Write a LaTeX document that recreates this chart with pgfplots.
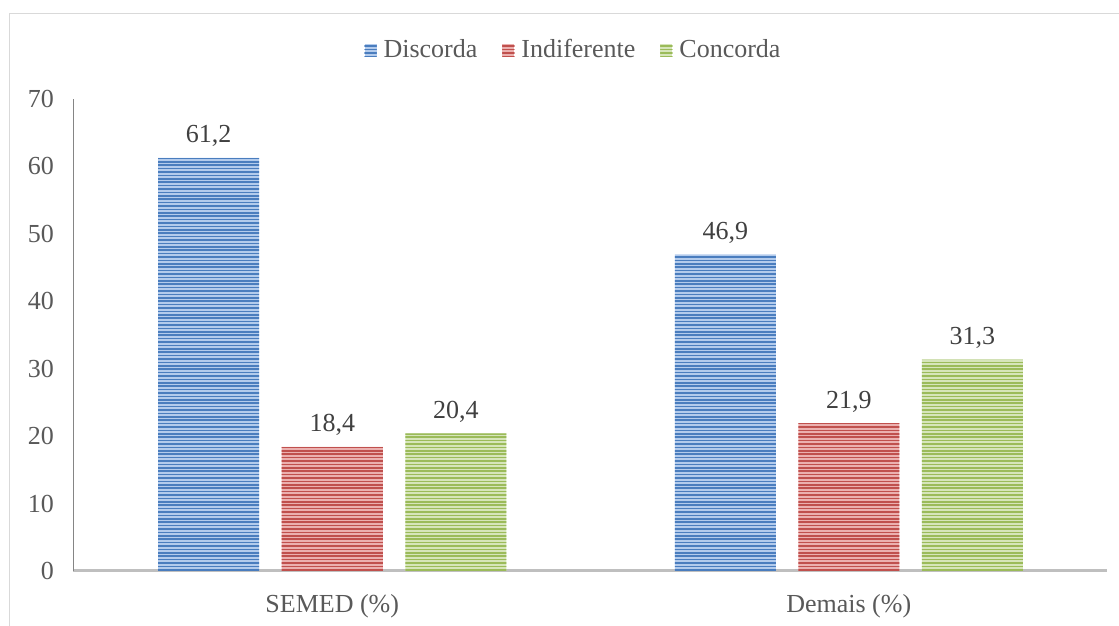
\documentclass[border=0pt]{standalone}
\usepackage{pgfplots}
\pgfplotsset{compat=1.18}
\usepackage{fontspec}
\setmainfont{Liberation Serif}
\usetikzlibrary{patterns}

\definecolor{blueD}{HTML}{4A7DBE}
\definecolor{blueL}{HTML}{B3CBEC}
\definecolor{redD}{HTML}{C0504D}
\definecolor{redL}{HTML}{EBB0AF}
\definecolor{greenD}{HTML}{9BBB59}
\definecolor{greenL}{HTML}{D6E5BA}
\definecolor{txt}{HTML}{595959}
\definecolor{lbl}{HTML}{404040}
\definecolor{frame}{HTML}{D9D9D9}

% wide tile of narrow horizontal stripes
\pgfdeclarepatternformonly{hstripes}{\pgfpoint{-1pt}{0pt}}{\pgfpoint{301pt}{1.7pt}}{\pgfpoint{300pt}{1.7pt}}{%
  \pgfpathrectangle{\pgfpoint{-1pt}{0.45pt}}{\pgfpoint{302pt}{0.8pt}}\pgfusepath{fill}}

\tikzset{
  stripes/.style 2 args={fill=#2, draw=none,
    postaction={pattern=hstripes, pattern color=#1}},
}

\begin{document}
\begin{tikzpicture}[font=\fontsize{13}{15}\selectfont]
\clip (0pt,0pt) rectangle (559.5pt,313pt);
\path[use as bounding box] (0pt,0pt) rectangle (559.5pt,313pt);
% chart area frame
\draw[frame, line width=0.75pt] (4.75pt,-20pt) -- (4.75pt,306.25pt) -- (620pt,306.25pt);

\begin{axis}[
  at={(37pt,27.5pt)}, anchor=south west,
  scale only axis, width=516.5pt, height=236.25pt,
  ybar=11.25pt, bar width=50.5pt,
  xmin=-0.5, xmax=1.5, ymin=0, ymax=70,
  xtick={0,1}, xticklabels={SEMED (\%), Demais (\%)},
  ytick={0,10,...,70},
  major tick length=0pt,
  axis x line*=bottom, axis y line*=left,
  x axis line style={draw=black!25, line width=1.5pt, shorten <=-0.4pt},
  y axis line style={draw=black!48, line width=0.5pt},
  tick label style={text=txt, font=\fontsize{13}{15}\selectfont},
  /pgf/number format/assume math mode=true,
  yticklabel style={xshift=-6.5pt},
  xticklabel style={yshift=-8pt},
  nodes near coords,
  nodes near coords style={text=lbl, font=\fontsize{13}{15}\selectfont, yshift=2pt,
    /pgf/number format/.cd, fixed, fixed zerofill, precision=1, use comma, assume math mode=true},
  legend columns=-1,
  legend style={draw=none, fill=none, at={(0.486,1.1026)}, anchor=center,
    font=\fontsize{13}{15}\selectfont, text=txt,
    nodes={inner xsep=3.5pt},
    /tikz/every even column/.append style={column sep=9pt}},
  clip=false,
]
\addplot[stripes={blueD}{blueL},
  legend image code/.code={\path[stripes={blueD}{blueL}] (0pt,-3pt) rectangle (6pt,3pt);}]
  coordinates {(0,61.2) (1,46.9)};
\addplot[stripes={redD}{redL},
  legend image code/.code={\path[stripes={redD}{redL}] (0pt,-3pt) rectangle (6pt,3pt);}]
  coordinates {(0,18.4) (1,21.9)};
\addplot[stripes={greenD}{greenL},
  legend image code/.code={\path[stripes={greenD}{greenL}] (0pt,-3pt) rectangle (6pt,3pt);}]
  coordinates {(0,20.4) (1,31.3)};
\legend{Discorda, Indiferente, Concorda}
\end{axis}
\end{tikzpicture}
\end{document}
